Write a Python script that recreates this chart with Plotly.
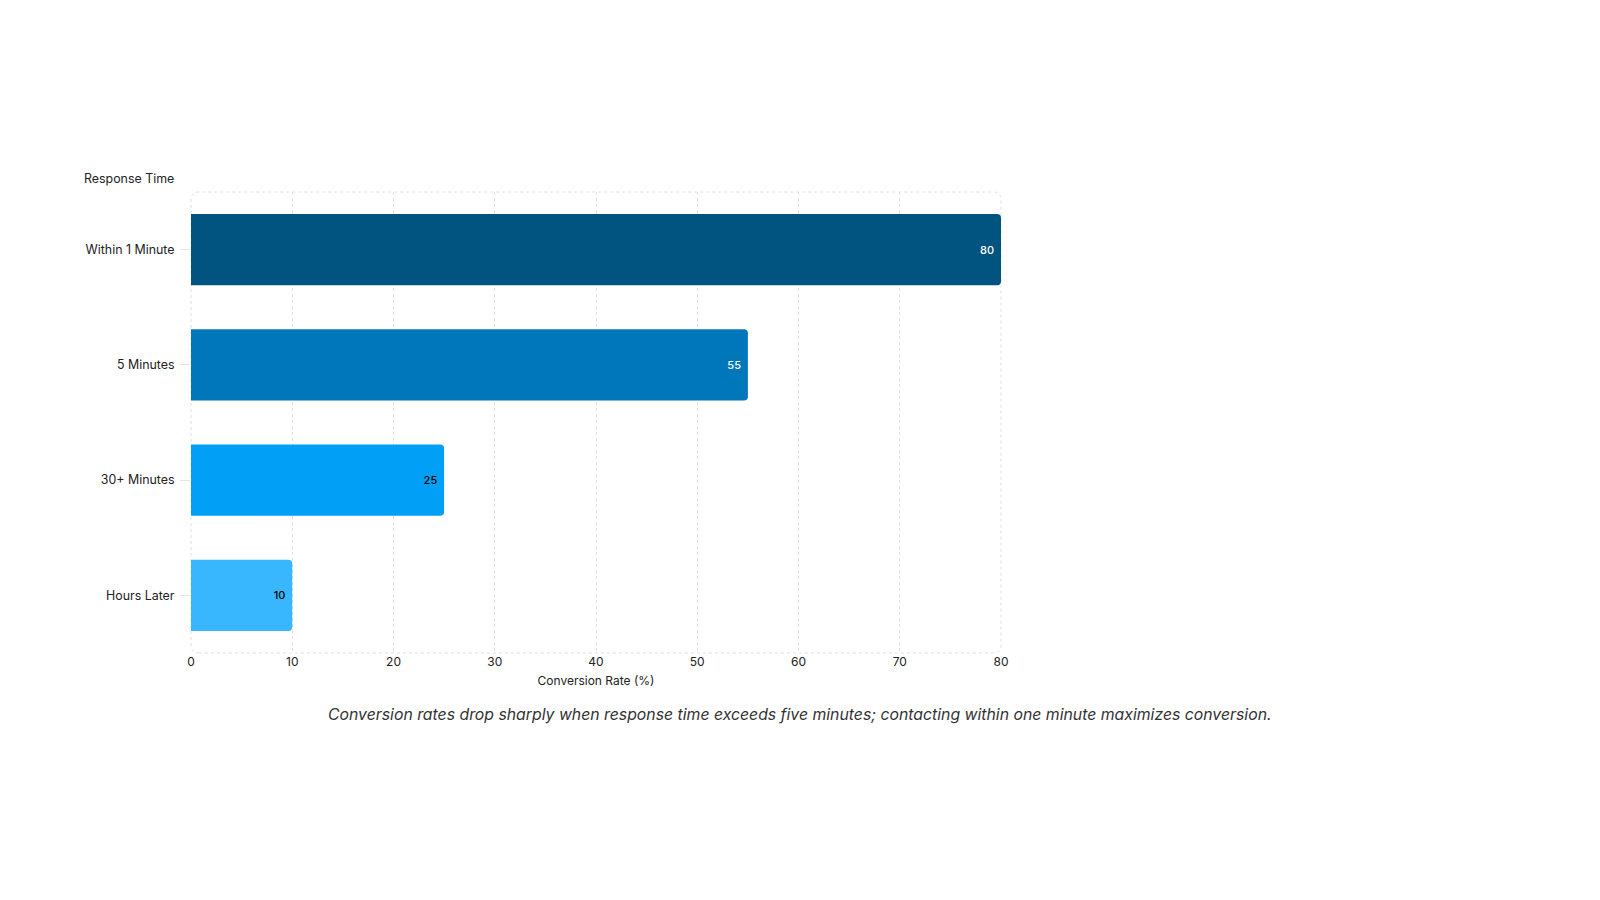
import plotly.graph_objects as go

# Data
categories = ["Within 1 Minute", "5 Minutes", "30+ Minutes", "Hours Later"]
conversion = [80, 55, 25, 10]
bar_colors = ["#01547f", "#0077bb", "#019ff5", "#38b6fe"]
label_colors = ["white", "white", "black", "black"]
x_ticks = [0, 10, 20, 30, 40, 50, 60, 70, 80]

caption = ("Conversion rates drop sharply when response time exceeds five minutes; "
           "contacting within one minute maximizes conversion.")

FONT = "Inter, Noto Sans, sans-serif"

# plot area in pixels (page has 8px body margin, so shift up/left)
L, R, T, B = 183, 993, 184, 645
W, H = R - L, B - T

fig = go.Figure()

fig.add_trace(go.Bar(
    x=conversion,
    y=categories,
    orientation="h",
    marker=dict(color=bar_colors, cornerradius=4, line=dict(width=0)),
    width=0.62,
    text=[f"{v}\u00a0" for v in conversion],
    textposition="inside",
    insidetextanchor="end",
    textfont=dict(family=FONT, size=11, color=label_colors, weight=500),
    hoverinfo="x+y",
))

# Rounded dashed border around the plot area
rx, ry = 8 / W, 8 / H
border = (f"M {rx},0 L {1-rx},0 Q 1,0 1,{ry} L 1,{1-ry} Q 1,1 {1-rx},1 "
          f"L {rx},1 Q 0,1 0,{1-ry} L 0,{ry} Q 0,0 {rx},0 Z")
fig.add_shape(type="path", path=border, xref="paper", yref="paper",
              line=dict(color="#e0e0e0", width=1, dash="3px,3px"), layer="below")

fig.update_layout(
    width=1600, height=900,
    paper_bgcolor="white", plot_bgcolor="white",
    margin=dict(l=L, r=1600 - R, t=T, b=900 - B, pad=0),
    showlegend=False,
    font=dict(family=FONT, size=12, color="#222"),
    xaxis=dict(
        range=[0, 80], tickvals=x_ticks,
        showgrid=True, gridcolor="#e0e0e0", griddash="3px,3px", gridwidth=1,
        zeroline=False, showline=False,
        tickfont=dict(size=12, color="#222"),
        title=dict(text="Conversion Rate (%)", font=dict(size=12, color="#222"), standoff=8),
        ticks="", ticklen=4,
    ),
    yaxis=dict(
        categoryorder="array", categoryarray=categories[::-1],
        range=[-0.5, 3.5],
        showgrid=False, zeroline=False, showline=False,
        ticks="outside", ticklen=10, tickcolor="#e6e6e6",
        ticklabelstandoff=3,
        tickfont=dict(size=12.4, color="#222"),
    ),
    annotations=[
        dict(text="Response Time", xref="paper", yref="paper",
             x=(168 - L) / W, y=(B - 170) / H, xanchor="right", yanchor="middle",
             showarrow=False, font=dict(size=12.4, color="#222")),
        dict(text=f"<i>{caption}</i>", xref="paper", yref="paper",
             x=(792 - L) / W, y=(B - 706) / H, xanchor="center", yanchor="middle",
             showarrow=False, font=dict(size=15.8, color="#333")),
    ],
)

fig.write_html("out.html")
